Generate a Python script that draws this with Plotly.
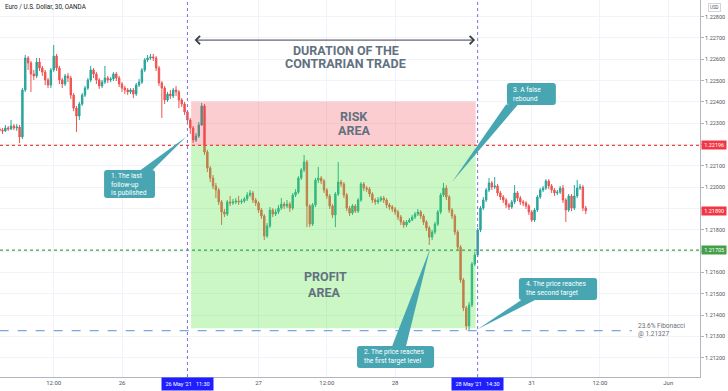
import plotly.graph_objects as go

# ---------------- data ----------------
title_text = "Euro / U.S. Dollar, 30, OANDA"
# 30-minute bar index, 0 = 26 May 00:00 (weekend removed)
bar_index = list(range(-43, 164))

first_open = 1.22273
closes = [
    1.22268, 1.22264, 1.22278, 1.22273, 1.22287, 1.22278, 1.22282, 1.22236, 1.22456, 1.22606,
    1.22583, 1.22531, 1.22522, 1.22587, 1.22559, 1.22540, 1.22503, 1.22479, 1.22550, 1.22615,
    1.22559, 1.22503, 1.22484, 1.22522, 1.22512, 1.22432, 1.22371, 1.22334, 1.22390, 1.22432,
    1.22465, 1.22503, 1.22550, 1.22531, 1.22503, 1.22475, 1.22493, 1.22512, 1.22503, 1.22508,
    1.22531, 1.22512, 1.22484, 1.22465, 1.22456, 1.22447, 1.22456, 1.22437, 1.22479, 1.22493,
    1.22550, 1.22597, 1.22606, 1.22611, 1.22606, 1.22559, 1.22489, 1.22465, 1.22409, 1.22437,
    1.22428, 1.22456, 1.22447, 1.22409, 1.22390, 1.22353, 1.22315, 1.22278, 1.22221, 1.22240,
    1.22292, 1.22381, 1.22165, 1.22090, 1.22043, 1.22006, 1.21987, 1.21931, 1.21884, 1.21874,
    1.21931, 1.21926, 1.21931, 1.21935, 1.21931, 1.21935, 1.21945, 1.21963, 1.21973, 1.21940,
    1.21926, 1.21893, 1.21865, 1.21771, 1.21818, 1.21893, 1.21874, 1.21884, 1.21902, 1.21921,
    1.21912, 1.21921, 1.21902, 1.21963, 1.21977, 1.22043, 1.22081, 1.22118, 1.21912, 1.21827,
    1.21917, 1.22034, 1.22043, 1.22029, 1.21987, 1.21959, 1.21912, 1.21870, 1.21968, 1.22024,
    1.22015, 1.21963, 1.21902, 1.21879, 1.21912, 1.21888, 1.21940, 1.22015, 1.21996, 1.21991,
    1.21968, 1.21940, 1.21931, 1.21940, 1.21949, 1.21940, 1.21917, 1.21907, 1.21898, 1.21884,
    1.21860, 1.21837, 1.21823, 1.21837, 1.21846, 1.21860, 1.21874, 1.21884, 1.21865, 1.21837,
    1.21809, 1.21766, 1.21790, 1.21827, 1.21884, 1.21963, 1.21996, 1.21954, 1.21893, 1.21865,
    1.21790, 1.21719, 1.21565, 1.21434, 1.21349, 1.21448, 1.21640, 1.21682, 1.21799, 1.21902,
    1.21940, 1.21987, 1.22020, 1.22001, 1.22006, 1.21973, 1.21954, 1.21940, 1.21917, 1.21907,
    1.21931, 1.21973, 1.21949, 1.21931, 1.21926, 1.21912, 1.21884, 1.21846, 1.21893, 1.21954,
    1.21987, 1.21996, 1.22029, 1.22006, 1.21987, 1.21973, 1.21977, 1.21996, 1.21940, 1.21893,
    1.21959, 1.21902, 1.21959, 1.21996, 1.22001, 1.21902, 1.21890,
]
highs = [
    1.22282, 1.22278, 1.22292, 1.22287, 1.22315, 1.22296, 1.22296, 1.22292, 1.22465, 1.22620,
    1.22615, 1.22592, 1.22550, 1.22606, 1.22606, 1.22569, 1.22550, 1.22512, 1.22559, 1.22667,
    1.22625, 1.22569, 1.22512, 1.22531, 1.22536, 1.22522, 1.22442, 1.22381, 1.22400, 1.22442,
    1.22475, 1.22512, 1.22569, 1.22559, 1.22540, 1.22512, 1.22503, 1.22569, 1.22522, 1.22517,
    1.22540, 1.22540, 1.22522, 1.22493, 1.22475, 1.22465, 1.22465, 1.22465, 1.22489, 1.22508,
    1.22559, 1.22606, 1.22620, 1.22625, 1.22625, 1.22615, 1.22569, 1.22498, 1.22475, 1.22447,
    1.22456, 1.22465, 1.22475, 1.22456, 1.22418, 1.22400, 1.22362, 1.22325, 1.22287, 1.22254,
    1.22306, 1.22395, 1.22390, 1.22175, 1.22099, 1.22057, 1.22020, 1.21996, 1.21940, 1.21898,
    1.21940, 1.21959, 1.21945, 1.21949, 1.21959, 1.21945, 1.21954, 1.21977, 1.21987, 1.21982,
    1.21949, 1.21935, 1.21902, 1.21874, 1.21832, 1.21907, 1.21902, 1.21898, 1.21917, 1.21949,
    1.21931, 1.21940, 1.21931, 1.21973, 1.21991, 1.22052, 1.22090, 1.22151, 1.22128, 1.21921,
    1.21926, 1.22043, 1.22095, 1.22052, 1.22038, 1.21996, 1.21968, 1.21921, 1.21977, 1.22118,
    1.22034, 1.22024, 1.21973, 1.21912, 1.21921, 1.21921, 1.21949, 1.22024, 1.22024, 1.22006,
    1.22001, 1.21977, 1.21949, 1.21954, 1.21959, 1.21959, 1.21949, 1.21926, 1.21917, 1.21907,
    1.21893, 1.21870, 1.21846, 1.21846, 1.21856, 1.21870, 1.21884, 1.21898, 1.21893, 1.21874,
    1.21846, 1.21818, 1.21799, 1.21837, 1.21893, 1.21973, 1.22020, 1.22010, 1.21963, 1.21902,
    1.21874, 1.21799, 1.21729, 1.21574, 1.21443, 1.21462, 1.21649, 1.21696, 1.21809, 1.21912,
    1.21954, 1.21996, 1.22043, 1.22029, 1.22048, 1.22015, 1.21982, 1.21963, 1.21949, 1.21926,
    1.21940, 1.22010, 1.21982, 1.21959, 1.21940, 1.21935, 1.21921, 1.21893, 1.21902, 1.21963,
    1.21996, 1.22006, 1.22038, 1.22038, 1.22015, 1.21996, 1.21987, 1.22006, 1.22010, 1.21949,
    1.21968, 1.21968, 1.22010, 1.22034, 1.22015, 1.22010, 1.21912,
]
lows = [
    1.22259, 1.22250, 1.22259, 1.22264, 1.22268, 1.22268, 1.22264, 1.22207, 1.22226, 1.22447,
    1.22550, 1.22447, 1.22503, 1.22512, 1.22545, 1.22522, 1.22479, 1.22465, 1.22465, 1.22540,
    1.22545, 1.22484, 1.22465, 1.22475, 1.22493, 1.22414, 1.22357, 1.22259, 1.22315, 1.22381,
    1.22423, 1.22456, 1.22493, 1.22512, 1.22484, 1.22461, 1.22465, 1.22484, 1.22489, 1.22493,
    1.22498, 1.22498, 1.22470, 1.22447, 1.22437, 1.22432, 1.22437, 1.22418, 1.22428, 1.22470,
    1.22484, 1.22540, 1.22587, 1.22597, 1.22592, 1.22545, 1.22475, 1.22325, 1.22390, 1.22400,
    1.22414, 1.22418, 1.22428, 1.22371, 1.22376, 1.22339, 1.22301, 1.22250, 1.22207, 1.22212,
    1.22231, 1.22287, 1.22151, 1.22071, 1.22024, 1.21991, 1.21949, 1.21917, 1.21823, 1.21860,
    1.21865, 1.21912, 1.21917, 1.21921, 1.21917, 1.21921, 1.21926, 1.21935, 1.21954, 1.21926,
    1.21912, 1.21879, 1.21851, 1.21752, 1.21762, 1.21809, 1.21860, 1.21865, 1.21874, 1.21893,
    1.21898, 1.21902, 1.21884, 1.21893, 1.21954, 1.21968, 1.22034, 1.22071, 1.21813, 1.21813,
    1.21818, 1.21907, 1.22020, 1.22015, 1.21973, 1.21945, 1.21898, 1.21856, 1.21813, 1.21959,
    1.22001, 1.21949, 1.21888, 1.21865, 1.21870, 1.21879, 1.21879, 1.21931, 1.21982, 1.21977,
    1.21954, 1.21926, 1.21917, 1.21921, 1.21931, 1.21926, 1.21902, 1.21893, 1.21884, 1.21870,
    1.21846, 1.21823, 1.21809, 1.21813, 1.21832, 1.21841, 1.21851, 1.21865, 1.21851, 1.21823,
    1.21795, 1.21729, 1.21752, 1.21780, 1.21818, 1.21874, 1.21954, 1.21940, 1.21879, 1.21851,
    1.21776, 1.21706, 1.21551, 1.21419, 1.21330, 1.21330, 1.21438, 1.21630, 1.21673, 1.21790,
    1.21893, 1.21931, 1.21977, 1.21987, 1.21991, 1.21959, 1.21940, 1.21926, 1.21902, 1.21893,
    1.21898, 1.21921, 1.21935, 1.21917, 1.21912, 1.21898, 1.21870, 1.21837, 1.21837, 1.21884,
    1.21945, 1.21977, 1.21987, 1.21991, 1.21973, 1.21959, 1.21963, 1.21968, 1.21926, 1.21837,
    1.21884, 1.21888, 1.21893, 1.21949, 1.21987, 1.21888, 1.21874,
]
opens = [first_open] + closes[:-1]

x_tick_index = [-24, 0, 48, 72, 96, 144, 168, 192]
x_tick_labels = ["12:00", "26", "27", "12:00", "28", "31", "12:00", "Jun"]
y_tick_values = [1.212, 1.213, 1.214, 1.215, 1.216, 1.217, 1.218, 1.219,
                 1.220, 1.221, 1.222, 1.223, 1.224, 1.225, 1.226, 1.227, 1.228]

entry_bar, entry_label = 23, "26 May '21\u00a0\u00a0\u00a011:30"
exit_bar, exit_label = 125, "28 May '21\u00a0\u00a0\u00a014:30"
level_stop = 1.22196
level_target = 1.21705
level_fib = 1.21327
last_price = 1.21890
risk_top = 1.22402
profit_bottom = 1.21339

# ---------------- styling ----------------
UP, DOWN = "#26a69a", "#ef5350"
TEAL = "#47a6b2"
SLATE = "#627180"
FONT = "Roboto"

# tick labels hidden behind the price tags on the axis
axis_tags = [(level_stop, "#f23645"), (last_price, "#f23645"), (level_target, "#43a047")]
y_tick_text = []
for v in y_tick_values:
    covered = any(abs(v - t) < 0.00012 for t, _ in axis_tags)
    y_tick_text.append("" if covered else f"{v:.5f}")

fig = go.Figure(go.Candlestick(
    x=bar_index, open=opens, high=highs, low=lows, close=closes,
    increasing=dict(line=dict(color=UP, width=1), fillcolor=UP),
    decreasing=dict(line=dict(color=DOWN, width=1), fillcolor=DOWN),
    whiskerwidth=0, hoverinfo="skip", showlegend=False,
))

shapes = []
shapes.append(dict(type="rect", xref="x", yref="y", x0=24.3, x1=124.3, y0=level_stop, y1=risk_top,
                   fillcolor="rgba(242,54,69,0.25)", line=dict(width=0), layer="above"))
shapes.append(dict(type="rect", xref="x", yref="y", x0=24.3, x1=124.3, y0=profit_bottom, y1=level_stop,
                   fillcolor="rgba(80,228,60,0.30)", line=dict(width=0), layer="above"))
shapes.append(dict(type="line", xref="paper", yref="y", x0=0, x1=1, y0=level_stop, y1=level_stop,
                   line=dict(color="#f44336", width=1.2, dash="dot"), layer="above"))
shapes.append(dict(type="line", xref="paper", yref="y", x0=0, x1=1, y0=level_target, y1=level_target,
                   line=dict(color="#43a047", width=1.2, dash="dot"), layer="above"))
shapes.append(dict(type="line", xref="x", yref="y", x0=-43, x1=179.2, y0=level_fib, y1=level_fib,
                   line=dict(color="#5b8fd6", width=1, dash="dash"), layer="above"))
for b in (entry_bar, exit_bar):
    shapes.append(dict(type="line", xref="x", yref="paper", x0=b, x1=b, y0=0, y1=1,
                       line=dict(color="#7c6fe0", width=1, dash="dot"), layer="above"))


def rounded_box(x0, x1, y0, y1, rx=1.0, ry=0.00014):
    return (f"M {x0+rx},{y1} L {x1-rx},{y1} Q {x1},{y1} {x1},{y1-ry} L {x1},{y0+ry} "
            f"Q {x1},{y0} {x1-rx},{y0} L {x0+rx},{y0} Q {x0},{y0} {x0},{y0+ry} "
            f"L {x0},{y1-ry} Q {x0},{y1} {x0+rx},{y1} Z")


callouts = [
    ((-6.3, 11.6, 1.21949, 1.22081), [(6.3, 1.22079), (10.6, 1.22079), (22.5, 1.22236)],
     (-4.6, 1.22015), "1. The last<br>follow-up<br>is published"),
    ((82.6, 109.7, 1.21152, 1.21255), [(94.9, 1.21253), (99.8, 1.21253), (108.3, 1.21712)],
     (84.4, 1.21204), "2. The price reaches<br>the first target level"),
    ((135.3, 152.5, 1.22386, 1.22489), [(135.0, 1.22388), (139.2, 1.22388), (116.0, 1.22024)],
     (136.7, 1.22437), "3. A false<br>rebound"),
    ((139.5, 167.0, 1.21471, 1.21574), [(140.6, 1.21473), (145.5, 1.21473), (125.1, 1.21335)],
     (141.3, 1.21523), "4. The price reaches<br>the second target"),
]

annotations = []
for (bx0, bx1, by0, by1), tri, (tx, ty), txt in callouts:
    p = tri
    shapes.append(dict(type="path", xref="x", yref="y",
                       path=f"M {p[0][0]},{p[0][1]} L {p[1][0]},{p[1][1]} L {p[2][0]},{p[2][1]} Z",
                       fillcolor=TEAL, line=dict(width=0), layer="above"))
    shapes.append(dict(type="path", xref="x", yref="y", path=rounded_box(bx0, bx1, by0, by1),
                       fillcolor=TEAL, line=dict(width=0), layer="above"))
    annotations.append(dict(x=tx, y=ty, xref="x", yref="y", text=txt, showarrow=False,
                            xanchor="left", yanchor="middle", align="left",
                            font=dict(family=FONT, size=6.7, color="white")))

annotations.append(dict(x=124.1, y=1.22690, ax=25.0, ay=1.22690, xref="x", yref="y",
                        axref="x", ayref="y", text="", showarrow=True, arrowside="end+start",
                        arrowhead=4, startarrowhead=4, arrowsize=1.6, startarrowsize=1.6,
                        arrowwidth=1, arrowcolor="#3a3e4a"))

big = dict(family=FONT, size=12.5, color=SLATE)
for txt, x, y in [("<b>DURATION OF THE</b>", 78.7, 1.22641),
                  ("<b>CONTRARIAN TRADE</b>", 78.7, 1.22578),
                  ("<b>RISK</b>", 81.5, 1.22331),
                  ("<b>AREA</b>", 81.5, 1.22266),
                  ("<b>PROFIT</b>", 71.7, 1.21581),
                  ("<b>AREA</b>", 71.0, 1.21507)]:
    annotations.append(dict(x=x, y=y, xref="x", yref="y", text=txt, showarrow=False,
                            xanchor="center", yanchor="middle", font=big))

for txt, y in [("23.6% Fibonacci", 1.21350), ("@ 1.21327", 1.21310)]:
    annotations.append(dict(x=180.7, y=y, xref="x", yref="y", text=txt, showarrow=False,
                            xanchor="left", yanchor="middle",
                            font=dict(family=FONT, size=6.5, color="#6a6d78")))

for val, col in axis_tags:
    annotations.append(dict(x=1, y=val, xref="paper", yref="y", text=f"{val:.5f}",
                            showarrow=False, xanchor="left", yanchor="middle", xshift=1,
                            bgcolor=col, borderpad=1.2, width=22,
                            font=dict(family=FONT, size=5.5, color="white")))

for b, lab in [(entry_bar, entry_label), (exit_bar, exit_label)]:
    annotations.append(dict(x=b, y=0, xref="x", yref="paper", text=lab, showarrow=False,
                            xanchor="center", yanchor="top", bgcolor="#1e1eff", borderpad=3,
                            width=45, font=dict(family=FONT, size=5.5, color="white")))

annotations.append(dict(x=0.004, y=1 - 7 / 377, xref="paper", yref="paper", text=title_text,
                        showarrow=False, xanchor="left", yanchor="middle",
                        font=dict(family=FONT, size=6.3, color="#131722")))
annotations.append(dict(x=1.02, y=1 - 7 / 377, xref="paper", yref="paper", text="USD",
                        showarrow=False, xanchor="center", yanchor="middle",
                        bordercolor="#d1d4dc", borderwidth=1, borderpad=1,
                        font=dict(family=FONT, size=4.5, color="#50535e")))

fig.update_layout(
    width=728, height=391,
    margin=dict(l=0, r=28, t=0, b=14),
    paper_bgcolor="white", plot_bgcolor="white",
    shapes=shapes, annotations=annotations,
    showlegend=False, hovermode=False,
    xaxis=dict(range=[-42.88, 203.16], tickmode="array", tickvals=x_tick_index,
               ticktext=x_tick_labels, showgrid=True, gridcolor="#f0f3fa", gridwidth=1,
               zeroline=False, showline=True, linecolor="#b2b5be", linewidth=1,
               ticks="", tickfont=dict(family=FONT, size=6, color="#50535e"),
               rangeslider=dict(visible=False), automargin=False, fixedrange=True),
    yaxis=dict(range=[1.21110, 1.22878], side="right", tickmode="array",
               tickvals=y_tick_values, ticktext=y_tick_text, showgrid=True, gridcolor="#f0f3fa",
               gridwidth=1, zeroline=False, showline=True, linecolor="#b2b5be", linewidth=1,
               ticks="outside", ticklen=3, tickcolor="#b2b5be",
               tickfont=dict(family=FONT, size=5.5, color="#50535e"),
               automargin=False, fixedrange=True),
)

fig.write_html("out.html", config={"displayModeBar": False, "staticPlot": True},
               post_script="document.body.style.margin='0';")
